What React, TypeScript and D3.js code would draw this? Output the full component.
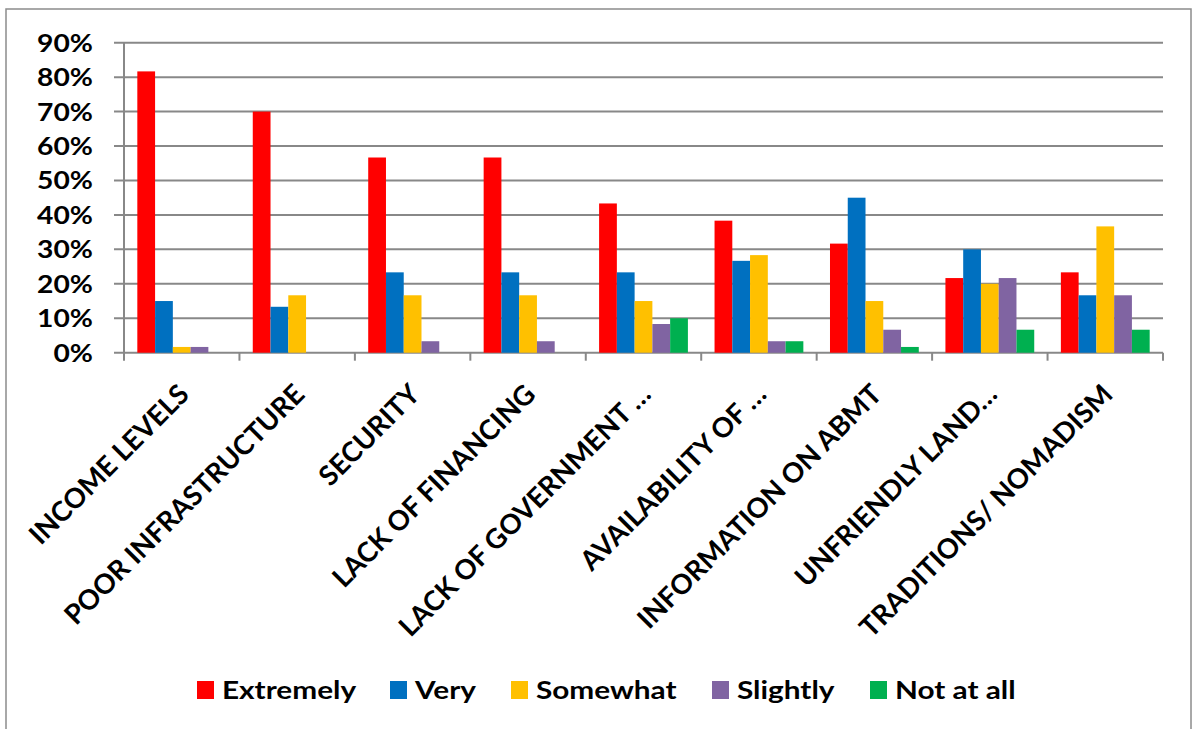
import React from "react";
import * as d3 from "d3";

const categories = [
  "INCOME LEVELS",
  "POOR INFRASTRUCTURE",
  "SECURITY",
  "LACK OF FINANCING",
  "LACK OF GOVERNMENT …",
  "AVAILABILITY OF …",
  "INFORMATION ON ABMT",
  "UNFRIENDLY LAND…",
  "TRADITIONS/ NOMADISM",
];

const seriesNames = ["Extremely", "Very", "Somewhat", "Slightly", "Not at all"];
const seriesColors = ["#FF0000", "#0070C0", "#FFC000", "#8064A2", "#00B050"];

// Percentages per response level, one entry per category
const extremely = [81.67, 70, 56.67, 56.67, 43.33, 38.33, 31.67, 21.67, 23.33];
const very = [15, 13.33, 23.33, 23.33, 23.33, 26.67, 45, 30, 16.67];
const somewhat = [1.67, 16.67, 16.67, 16.67, 15, 28.33, 15, 20, 36.67];
const slightly = [1.67, 0, 3.33, 3.33, 8.33, 3.33, 6.67, 21.67, 16.67];
const notAtAll = [0, 0, 0, 0, 10, 3.33, 1.67, 6.67, 6.67];

const yTicks = [0, 10, 20, 30, 40, 50, 60, 70, 80, 90];

const W = 1194;
const H = 729;
const plot = { left: 124, right: 1163, top: 42.7, bottom: 352.7 };
const font = "Lato, 'Open Sans', sans-serif";
const grid = "#888888";

export default function App() {
  const seriesValues = [extremely, very, somewhat, slightly, notAtAll];

  const x0 = d3
    .scaleBand<string>()
    .domain(categories)
    .range([plot.left, plot.right])
    .paddingInner(0)
    .paddingOuter(0);
  const band = x0.bandwidth();
  // 150% gap width: five bars plus 1.5 bar-widths of gap per category
  const barW = band / 6.5;
  const x1 = d3
    .scaleBand<number>()
    .domain(d3.range(seriesNames.length))
    .range([barW * 0.75, barW * 5.75])
    .padding(0);

  const y = d3.scaleLinear().domain([0, 90]).range([plot.bottom, plot.top]);

  const legendX = [197, 390, 511, 712, 870];

  return (
    <svg
      width={W}
      height={H}
      style={{ position: "absolute", left: 0, top: 0, background: "#fff" }}
    >
      <rect x={6} y={9} width={1185} height={740} fill="#fff" stroke="#8c8c8c" strokeWidth={1.5} />

      {/* horizontal gridlines */}
      {yTicks.map((t) => (
        <line
          key={t}
          x1={plot.left - 10}
          x2={plot.right}
          y1={y(t)}
          y2={y(t)}
          stroke={grid}
          strokeWidth={2}
        />
      ))}

      {/* y axis line */}
      <line x1={plot.left} x2={plot.left} y1={plot.top} y2={plot.bottom + 8} stroke={grid} strokeWidth={2} />

      {/* category tick marks */}
      {categories.map((c) => {
        const xv = (x0(c) as number) + band;
        return (
          <line key={c} x1={xv} x2={xv} y1={plot.bottom} y2={plot.bottom + 8} stroke={grid} strokeWidth={2} />
        );
      })}

      {/* bars */}
      {categories.map((c, ci) => (
        <g key={c} transform={`translate(${x0(c)},0)`}>
          {seriesValues.map((vals, si) => {
            const v = vals[ci];
            if (!v) return null;
            return (
              <rect
                key={si}
                x={x1(si)}
                y={y(v)}
                width={x1.bandwidth()}
                height={y(0) - y(v)}
                fill={seriesColors[si]}
              />
            );
          })}
        </g>
      ))}

      {/* y tick labels */}
      {yTicks.map((t) => (
        <text
          key={t}
          transform={`translate(93,${y(t)}) scale(1.13,1)`}
          dy="0.36em"
          textAnchor="end"
          fontFamily={font}
          fontWeight={700}
          fontSize={25}
          fill="#000"
        >
          {`${t}%`}
        </text>
      ))}

      {/* rotated category labels */}
      {categories.map((c) => {
        const cx = (x0(c) as number) + band / 2;
        return (
          <text
            key={c}
            transform={`translate(${cx - 5},${382}) rotate(-45)`}
            dy="0.72em"
            textAnchor="end"
            fontFamily={font}
            fontWeight={700}
            fontSize={27.5}
            fill="#000"
          >
            {c}
          </text>
        );
      })}

      {/* legend */}
      {seriesNames.map((n, i) => (
        <g key={n} transform={`translate(${legendX[i]},681)`}>
          <rect x={0} y={0} width={17} height={18} fill={seriesColors[i]} />
          <text
            transform="translate(25,9) scale(1.24,1)"
            dy="0.36em"
            fontFamily={font}
            fontWeight={700}
            fontSize={24}
            fill="#000"
          >
            {n}
          </text>
        </g>
      ))}
    </svg>
  );
}
